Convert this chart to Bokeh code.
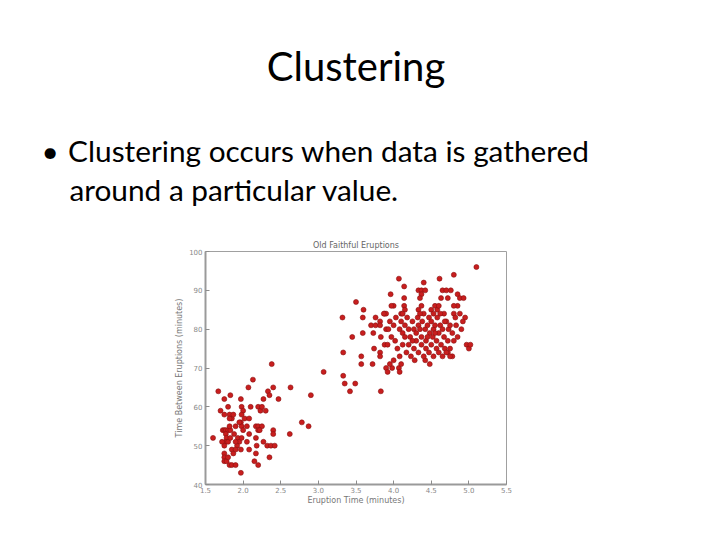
from bokeh.plotting import figure
from bokeh.models import LinearAxis, FixedTicker, ColumnDataSource, Range1d, Title
from bokeh.embed import file_html
from bokeh.resources import INLINE

# ---- data ----
eruption_time = [
    # lower cluster
    2.38, 3.07, 2.13, 1.67, 2.07, 2.33, 2.35, 2.40, 2.63, 1.83, 1.75, 1.97, 2.27, 2.47, 2.90,
    1.70, 1.80, 1.82, 1.85, 1.82, 1.87, 1.75, 1.98, 2.00, 1.98, 2.02, 2.10, 2.20, 2.23, 2.25,
    2.30, 2.08, 1.97, 1.98, 1.95, 1.90, 2.17, 2.20, 2.25, 2.20, 2.22, 2.40, 2.40, 2.62, 2.78,
    2.87, 1.60, 1.73, 1.75, 1.77, 1.80, 1.83, 1.77, 1.78, 1.77, 1.75, 1.80, 1.83, 1.93, 1.95,
    1.98, 1.92, 1.90, 2.08, 2.17, 2.18, 2.27, 2.32, 2.37, 2.42, 1.85, 1.87, 1.90, 1.97, 2.08,
    1.75, 1.75, 1.75, 1.78, 1.82, 2.17, 2.15, 2.35, 1.85, 1.90, 2.20, 1.97, 1.80, 2.05, 1.88,
    1.82, 2.00, 2.05, 1.72,
    # middle
    3.32, 3.59, 3.76, 3.88, 3.90, 3.70, 3.76, 3.82, 3.82, 3.45, 3.59, 3.73, 3.83, 3.90, 3.74,
    3.82, 3.82, 3.88, 3.92, 3.33, 3.57, 3.57, 3.72, 3.90, 3.92, 3.33, 3.35, 3.49, 3.42, 3.83,
    3.50, 3.60, 3.98, 4.07, 4.08, 4.42, 3.95,
    # upper cluster
    5.10, 4.07, 4.40, 4.61, 4.80, 4.14, 4.33, 4.37, 4.42, 4.65, 4.70, 4.76, 3.96, 4.37, 4.35,
    4.63, 4.72, 4.85, 4.88, 4.93, 4.14, 4.00, 4.14, 4.15, 4.33, 4.37, 4.50, 4.55, 4.58, 4.60,
    4.85, 4.80, 3.97, 4.10, 4.53, 4.67, 4.80, 3.87, 4.12,
    3.95, 4.00, 4.03, 4.08, 4.10, 4.12, 4.15, 4.18, 4.20, 4.22, 4.25, 4.27, 4.30, 4.32, 4.33,
    4.35, 4.37, 4.38, 4.40, 4.42, 4.43, 4.45, 4.47, 4.48, 4.50, 4.52, 4.53, 4.55, 4.57, 4.58,
    4.60, 4.62, 4.63, 4.65, 4.67, 4.70, 4.72, 4.73, 4.75, 4.78, 4.80, 4.83, 4.85, 4.90, 4.95,
    4.97, 5.00, 4.02, 4.05, 4.08, 4.12, 4.17, 4.20, 4.23, 4.27, 4.30, 4.33, 4.37, 4.40, 4.43,
    4.47, 4.50, 4.53, 4.57, 4.60, 4.65, 4.68, 4.72, 4.78, 3.97, 3.93, 4.15, 4.25, 4.35, 4.45,
    4.55, 4.62, 4.68, 4.75, 4.82, 4.88, 4.92, 5.02, 4.00, 4.10, 4.28, 4.48, 4.70, 4.75,
]
waiting_time = [
    # lower cluster
    71, 69, 67, 64, 65, 64, 63, 65, 65, 63, 62, 62, 62, 62, 63,
    59, 60, 58, 57, 57, 58, 58, 60, 59, 58, 57, 60, 60, 59, 60,
    59, 57, 56, 55, 56, 55, 55, 55, 55, 54, 54, 54, 53, 53, 56,
    55, 52, 54, 54, 54, 54, 54, 53, 52, 51, 50, 51, 52, 52, 51,
    52, 50, 51, 53, 52, 50, 51, 50, 50, 50, 49, 48, 49, 49, 49,
    48, 47, 46, 46, 45, 48, 46, 47, 45, 45, 45, 43, 47, 51, 53,
    55, 54, 55, 51,
    # middle
    83, 83, 83, 84, 84, 81, 81, 82, 81, 78, 79, 79, 78, 80, 75,
    74, 73, 76, 76, 74, 73, 71, 71, 70, 69, 68, 66, 66, 64, 64,
    87, 85, 70, 70, 69, 72, 71,
    # upper cluster
    96, 93, 92, 93, 94, 91, 90, 90, 90, 90, 90, 90, 89, 89, 88,
    88, 88, 89, 88, 88, 88, 86, 86, 85, 85, 86, 85, 86, 85, 86,
    86, 86, 86, 84, 84, 84, 84, 84, 84,
    82, 81, 83, 80, 82, 79, 81, 83, 80, 78, 82, 80, 79, 83, 81,
    80, 78, 82, 84, 80, 77, 81, 83, 79, 82, 78, 80, 81, 77, 83,
    79, 81, 76, 80, 78, 82, 77, 80, 75, 79, 77, 81, 78, 80, 83,
    76, 75, 77, 75, 73, 76, 74, 76, 73, 75, 77, 74, 76, 73, 75,
    74, 76, 73, 75, 74, 73, 75, 74, 73, 78, 80, 78, 77, 84, 78,
    79, 84, 82, 81, 83, 84, 82, 76, 72, 71, 72, 71, 74, 73,
]
x_ticks = [1.5, 2.0, 2.5, 3.0, 3.5, 4.0, 4.5, 5.0, 5.5]
y_ticks = [40, 50, 60, 70, 80, 90, 100]

slide_title = "Clustering"
bullet_text = ("\u2022\u2009\u2009\u200aClustering occurs when data is gathered\n"
               "\u2002\u2009\u2009\u200a\u200a\u200aaround a particular value.")
chart_title = "Old Faithful Eruptions"
x_label = "Eruption Time (minutes)"
y_label = "Time Between Eruptions (minutes)"

# ---- layout ----
W, H = 704, 524
FL, FR, FT, FB = 205, 506, 251, 484   # chart frame in page pixels

p = figure(width=W, height=H, output_backend="svg", toolbar_location=None,
           x_range=Range1d(1.5, 5.5), y_range=Range1d(40, 100),
           x_axis_type=None, y_axis_type=None,
           min_border_left=FL, min_border_right=W - FR,
           min_border_top=FT, min_border_bottom=H - FB)
p.background_fill_color = "white"
p.border_fill_color = "white"
p.outline_line_color = "#a0a0a0"
p.outline_line_width = 1
p.xgrid.visible = False
p.ygrid.visible = False

# slide title: the figure's own title is the outermost panel
p.title.text = slide_title
p.title.align = "center"
p.title.offset = 4
p.title.text_font = "Lato"
p.title.text_font_size = "40px"
p.title.text_font_style = "normal"
p.title.text_color = "black"
p.title.standoff = 22

# panels added here stack upward from the frame
t_chart = Title(text=chart_title, align="center", offset=-1,
                text_font="DejaVu Sans", text_font_size="8px",
                text_font_style="normal", text_color="#666666", standoff=3)
p.add_layout(t_chart, "above")
t_bullets = Title(text=bullet_text, align="left", offset=41 - FL,
                  text_font="Lato", text_font_size="29.8px", text_font_style="normal",
                  text_color="black", text_line_height=1.11, standoff=61)
p.add_layout(t_bullets, "above")

tick_color = "#8c8c8c"
lab_color = "#888888"

def style_axis(ax):
    ax.major_tick_in = 4
    ax.major_tick_out = 0
    ax.minor_tick_in = 0
    ax.minor_tick_out = 0
    ax.axis_line_color = "#9a9a9a"
    ax.axis_line_width = 2
    ax.major_tick_line_color = tick_color
    ax.major_label_text_color = lab_color
    ax.major_label_text_font = "DejaVu Sans"
    ax.major_label_text_font_size = "7px"
    ax.major_label_standoff = 3
    ax.axis_label_text_font = "DejaVu Sans"
    ax.axis_label_text_font_size = "8px"
    ax.axis_label_text_font_style = "normal"
    ax.axis_label_text_color = "#777777"

xb = LinearAxis(ticker=FixedTicker(ticks=x_ticks), axis_label=x_label)
style_axis(xb)
xb.major_label_overrides = {t: f"{t:.1f}" for t in x_ticks}
xb.major_label_standoff = 2
xb.axis_label_standoff = 0
p.add_layout(xb, "below")
yl = LinearAxis(ticker=FixedTicker(ticks=y_ticks), axis_label=y_label)
style_axis(yl)
yl.axis_label_standoff = 2
p.add_layout(yl, "left")

src = ColumnDataSource(dict(x=eruption_time, y=waiting_time))
p.scatter("x", "y", source=src, marker="circle", size=5,
          fill_color="#c81e1e", line_color="#8a1010", line_width=0.6)

open("out.html", "w").write(file_html(p, INLINE))
